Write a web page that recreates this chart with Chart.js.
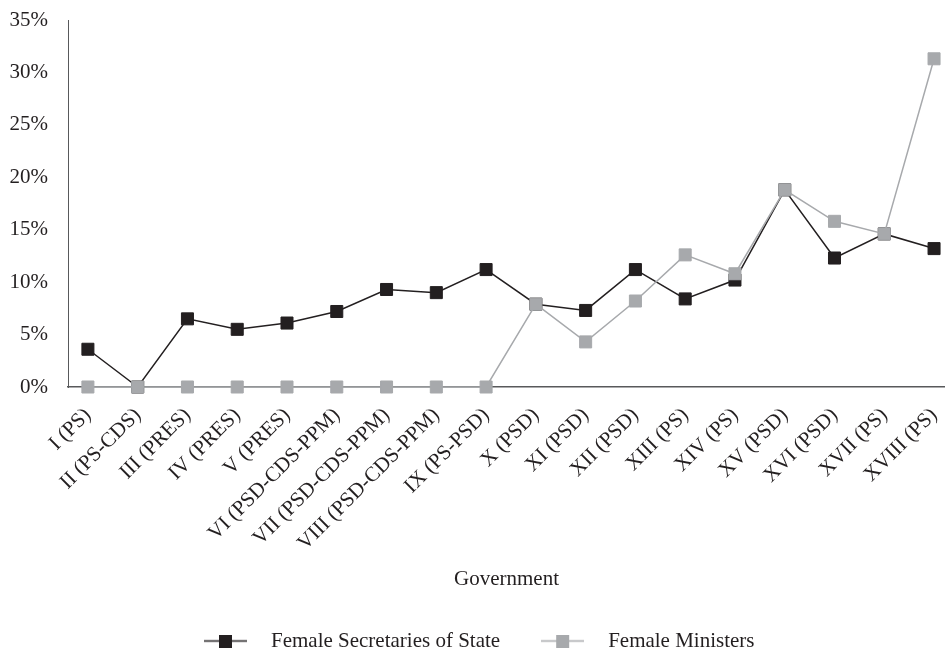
<!DOCTYPE html>
<html>
<head>
<meta charset="utf-8">
<script src="https://cdn.jsdelivr.net/npm/chart.js@4"></script>
<style>
html, body { margin: 0; padding: 0; background: #fff; }
</style>
</head>
<body>
<canvas id="graph" width="945" height="651"></canvas>
<script>
const governments = ['I (PS)', 'II (PS-CDS)', 'III (PRES)', 'IV (PRES)', 'V (PRES)', 'VI (PSD-CDS-PPM)',
    'VII (PSD-CDS-PPM)', 'VIII (PSD-CDS-PPM)', 'IX (PS-PSD)', 'X (PSD)', 'XI (PSD)', 'XII (PSD)',
    'XIII (PS)', 'XIV (PS)', 'XV (PSD)', 'XVI (PSD)', 'XVII (PS)', 'XVIII (PS)'];
const secretaries = [3.6, 0, 6.5, 5.5, 6.1, 7.2, 9.3, 9.0, 11.2, 7.9, 7.3, 11.2, 8.4, 10.2, 18.8, 12.3, 14.6, 13.2];
const ministers = [0, 0, 0, 0, 0, 0, 0, 0, 0, 7.9, 4.3, 8.2, 12.6, 10.8, 18.8, 15.8, 14.6, 31.3];
const yTicks = [0, 5, 10, 15, 20, 25, 30, 35];

const black = '#231f20';
const grey = '#a7a9ac';
const axisGrey = '#58595b';

Chart.defaults.font.family = '"Liberation Serif", "Times New Roman", serif';
Chart.defaults.font.size = 21;
Chart.defaults.color = black;

// line-with-square icon for the legend
function legendIcon(color) {
    const c = document.createElement('canvas');
    c.width = 43;
    c.height = 13;
    const g = c.getContext('2d');
    g.strokeStyle = color;
    g.lineWidth = 1.5;
    g.beginPath();
    g.moveTo(0, 6.5);
    g.lineTo(43, 6.5);
    g.stroke();
    g.fillStyle = color;
    g.fillRect(15, 0, 13, 13);
    return c;
}
const icons = [legendIcon(black), legendIcon(grey)];

const toPoints = vals => vals.map((v, i) => ({x: i, y: v}));

const ctx = document.getElementById('graph');
new Chart(ctx, {
    type: 'line',
    data: {
        datasets: [
            {
                label: 'Female Secretaries of State',
                data: toPoints(secretaries),
                borderColor: black,
                backgroundColor: black,
                borderWidth: 1.5,
                pointStyle: 'rect',
                pointRadius: 8.5,
                pointBorderWidth: 1,
                tension: 0,
                order: 1,
                clip: false
            },
            {
                label: 'Female Ministers',
                data: toPoints(ministers),
                borderColor: grey,
                backgroundColor: grey,
                borderWidth: 1.5,
                pointStyle: 'rect',
                pointRadius: 8.5,
                pointBorderWidth: 1,
                tension: 0,
                order: 0,
                clip: false
            }
        ]
    },
    options: {
        responsive: false,
        animation: false,
        layout: {
            autoPadding: false,
            padding: { top: 0, bottom: -10.5, left: 0, right: 0 }
        },
        scales: {
            x: {
                type: 'linear',
                min: -0.4,
                max: 17.22,
                grid: { display: false },
                border: { color: axisGrey, width: 1.5 },
                afterBuildTicks: scale => { scale.ticks = governments.map((_, i) => ({ value: i })); },
                afterFit: scale => {
                    scale.height = 216;
                    scale.paddingRight = 0;
                    scale.paddingLeft = 0;
                },
                ticks: {
                    autoSkip: false,
                    minRotation: 45,
                    maxRotation: 45,
                    padding: 8,
                    callback: v => governments[v]
                },
                title: {
                    display: true,
                    text: 'Government',
                    padding: { top: 10, bottom: 11.4 }
                }
            },
            y: {
                min: 0,
                max: 35,
                grid: { display: false },
                border: { color: axisGrey, width: 1 },
                afterBuildTicks: scale => { scale.ticks = yTicks.map(v => ({ value: v })); },
                afterFit: scale => {
                    scale.width = 68;
                    scale.paddingTop = 20;
                },
                ticks: {
                    padding: 12,
                    callback: v => v + '%'
                }
            }
        },
        plugins: {
            legend: {
                position: 'bottom',
                labels: {
                    usePointStyle: true,
                    pointStyleWidth: 70,
                    padding: 27.5,
                    sort: (a, b) => a.datasetIndex - b.datasetIndex,
                    generateLabels: chart => {
                        const items = Chart.defaults.plugins.legend.labels.generateLabels(chart);
                        items.forEach(it => { it.pointStyle = icons[it.datasetIndex]; });
                        return items;
                    }
                }
            },
            tooltip: { enabled: false }
        }
    }
});
</script>
</body>
</html>
